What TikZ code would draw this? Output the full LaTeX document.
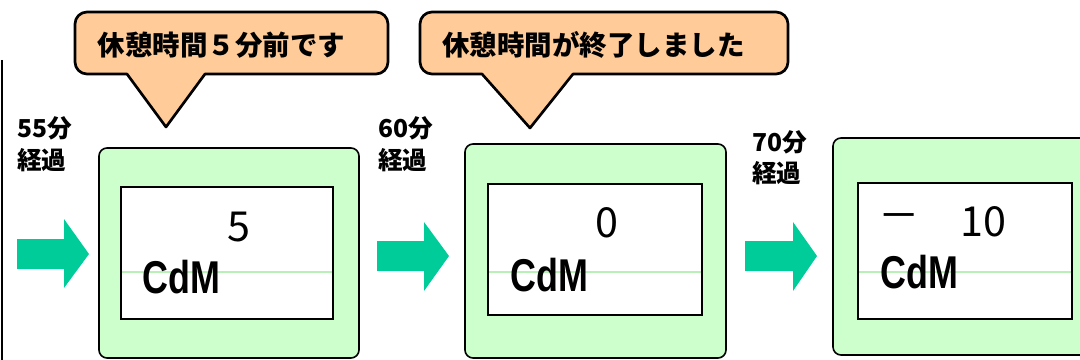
\documentclass[tikz,border=0pt]{standalone}
\usepackage{fontspec}
\newfontfamily\jp{Noto Sans CJK JP}
\newfontfamily\arialf{Liberation Sans}
\definecolor{peach}{HTML}{FFCC99}
\definecolor{panelgreen}{HTML}{CCFFCC}
\definecolor{arrowgreen}{HTML}{00CC99}
\definecolor{faintline}{HTML}{B8F0B8}
\begin{document}
\begin{tikzpicture}[x=0.75pt,y=-0.75pt,
  callout/.style={fill=peach,draw=black,line width=2pt,line join=round},
  panel/.style={fill=panelgreen,draw=black,line width=1.2pt,rounded corners=6pt},
  screen/.style={fill=white,draw=black,line width=1.2pt},
  blockarrow/.style={fill=arrowgreen,draw=none},
  calltext/.style={font=\jp\bfseries\fontsize{20.6pt}{24pt}\selectfont,inner sep=0pt},
  timetext/.style={font=\jp\bfseries\fontsize{18.5pt}{22pt}\selectfont,inner sep=0pt,anchor=west},
  numtext/.style={font=\jp\fontsize{31pt}{34pt}\selectfont,inner sep=0pt},
  cdmtext/.style={font=\arialf\bfseries\fontsize{34.5pt}{38pt}\selectfont,inner sep=0pt,anchor=base west}]
\useasboundingbox (0,0) rectangle (1080,360);
\clip (0,0) rectangle (1080,360);

% left vertical rule
\draw[line width=1.8pt] (2,60) -- (2,362);

% callouts
\draw[callout] (166,127) -- (205,74) [rounded corners=9pt] -- (388,74) -- (388,12) -- (75,12) -- (75,74) -- (100,74) [sharp corners] -- (127,74) -- cycle;
\node[calltext] (c1) at (221.5,45) {休憩時間５分前です};

\draw[callout] (530,128) -- (573,74) [rounded corners=9pt] -- (788,74) -- (788,12) -- (420,12) -- (420,74) -- (450,74) [sharp corners] -- (482,74) -- cycle;
\node[calltext] (c2) at (593.5,45) {休憩時間が終了しました};

% elapsed-time labels
\node[timetext] (t1a) at (17,128) {55分};
\node[timetext] (t1b) at (17,160) {経過};
\node[timetext] (t2a) at (378,128) {60分};
\node[timetext] (t2b) at (378,160) {経過};
\node[timetext] (t3a) at (752,142) {70分};
\node[timetext] (t3b) at (752,173) {経過};

% block arrows
\fill[blockarrow] (17,239) -- (64,239) -- (64,219) -- (89,254) -- (64,288) -- (64,269) -- (17,269) -- cycle;
\fill[blockarrow] (377,241) -- (424,241) -- (424,222) -- (449,256) -- (424,291) -- (424,271) -- (377,271) -- cycle;
\fill[blockarrow] (745,241) -- (793,241) -- (793,222) -- (817,256) -- (793,291) -- (793,271) -- (745,271) -- cycle;

% panels
\draw[panel] (99,148) rectangle (359,358);
\draw[screen] (121,187) rectangle (333,319);
\draw[faintline,line width=0.8pt] (122,272) -- (332,272);
\node[numtext] (n1) at (239,227) {5};
\node[cdmtext] (m1) at (142,293) {\scalebox{0.78}[1]{CdM}};

\draw[panel] (465,144) rectangle (726,358);
\draw[screen] (488,184) rectangle (702,315);
\draw[faintline,line width=0.8pt] (489,272) -- (701,272);
\node[numtext] (n2) at (607,223) {0};
\node[cdmtext] (m2) at (510,291) {\scalebox{0.78}[1]{CdM}};

\draw[panel] (833,138) rectangle (1100,355);
\draw[screen] (858,183) rectangle (1072,319);
\draw[faintline,line width=0.8pt] (859,272) -- (1071,272);
\node[numtext] (n3a) at (899,222) {－};
\node[numtext] (n3b) at (983,222) {10};
\node[cdmtext] (m3) at (880,288) {\scalebox{0.78}[1]{CdM}};
\end{tikzpicture}
\end{document}
